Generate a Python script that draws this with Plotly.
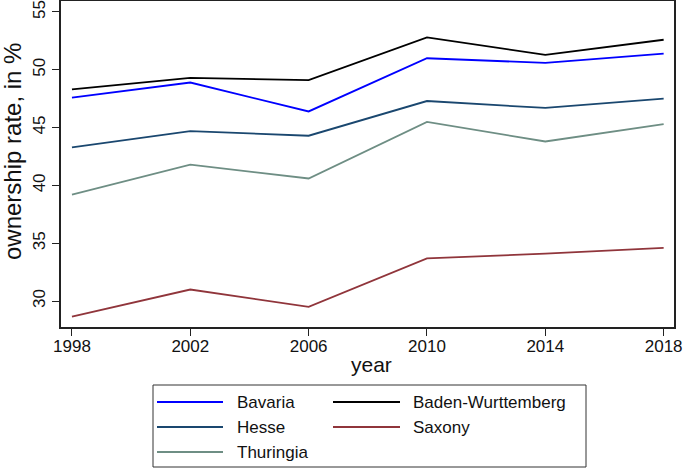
import plotly.graph_objects as go

years = [1998, 2002, 2006, 2010, 2014, 2018]
bavaria = [47.6, 48.9, 46.4, 51.0, 50.6, 51.4]
baden_wurttemberg = [48.3, 49.3, 49.1, 52.8, 51.3, 52.6]
hesse = [43.3, 44.7, 44.3, 47.3, 46.7, 47.5]
saxony = [28.65, 31.0, 29.5, 33.7, 34.1, 34.6]
thuringia = [39.2, 41.8, 40.6, 45.5, 43.8, 45.3]

series_names = ["Bavaria", "Baden-Wurttemberg", "Hesse", "Saxony", "Thuringia"]
series_values = [bavaria, baden_wurttemberg, hesse, saxony, thuringia]
series_colors = ["#0000ff", "#000000", "#1a476f", "#90353b", "#6e8e84"]

y_ticks = [30, 35, 40, 45, 50, 55]
x_ticks = years

W, H = 685, 468
ML, MR, MT, MB = 61, 11, 1, 141
PW, PH = W - ML - MR, H - MT - MB

fig = go.Figure()
for name, vals, col in zip(series_names, series_values, series_colors):
    fig.add_trace(go.Scatter(x=years, y=vals, name=name, mode="lines",
                             line=dict(color=col, width=1.8), showlegend=False))

def px_x(x):
    return (x - ML) / PW

def px_y(y):
    return (H - MB - y) / PH

# legend (manual, two columns like the original)
shapes = [dict(type="rect", xref="paper", yref="paper",
               x0=px_x(153), x1=px_x(586), y0=px_y(385), y1=px_y(467),
               line=dict(color="#333333", width=1), fillcolor="rgba(0,0,0,0)")]
annotations = []
col_line = [(157, 223, 235), (333, 400, 411)]
row_y = [402, 427, 452]
for i, (name, col) in enumerate(zip(series_names, series_colors)):
    c = i % 2
    r = i // 2
    lx0, lx1, tx = col_line[c]
    yy = row_y[r]
    shapes.append(dict(type="line", xref="paper", yref="paper",
                       x0=px_x(lx0), x1=px_x(lx1), y0=px_y(yy), y1=px_y(yy),
                       line=dict(color=col, width=1.8)))
    annotations.append(dict(xref="paper", yref="paper", x=px_x(tx), y=px_y(yy),
                            text=name, showarrow=False, xanchor="left", yanchor="middle",
                            font=dict(size=17, color="#111111")))

# axis titles
annotations.append(dict(xref="paper", yref="paper", x=px_x(371), y=px_y(364),
                        text="year", showarrow=False, xanchor="center", yanchor="middle",
                        font=dict(size=21, color="#111111")))
annotations.append(dict(xref="paper", yref="paper", x=px_x(12), y=px_y(152),
                        text="ownership rate, in %", showarrow=False, textangle=-90,
                        xanchor="center", yanchor="middle",
                        font=dict(size=24, color="#111111")))

fig.update_layout(
    width=W, height=H,
    margin=dict(l=ML, r=MR, t=MT, b=MB, pad=0),
    paper_bgcolor="white", plot_bgcolor="white",
    font=dict(family="Liberation Sans, Arial, sans-serif", color="#111111"),
    shapes=shapes, annotations=annotations,
    xaxis=dict(range=[1997.63, 2018.35], tickvals=x_ticks, ticktext=[str(v) for v in x_ticks],
               showgrid=False, zeroline=False, showline=True, linecolor="#222222", linewidth=1.5,
               mirror=True, ticks="outside", ticklen=7, tickcolor="#222222",
               tickfont=dict(size=17), automargin=False, ticklabeloverflow="allow",
               ticklabelstandoff=-4),
    yaxis=dict(range=[27.76, 55.95], tickvals=y_ticks, ticktext=[str(v) for v in y_ticks],
               showgrid=False, zeroline=False, showline=True, linecolor="#222222", linewidth=1.5,
               mirror=True, ticks="outside", ticklen=7, tickcolor="#222222",
               tickangle=-90, tickfont=dict(size=17), automargin=False,
               ticklabeloverflow="allow"),
)

fig.write_html("out.html", config={"displayModeBar": False},
               post_script="document.body.style.margin='0';document.body.style.padding='0';")
